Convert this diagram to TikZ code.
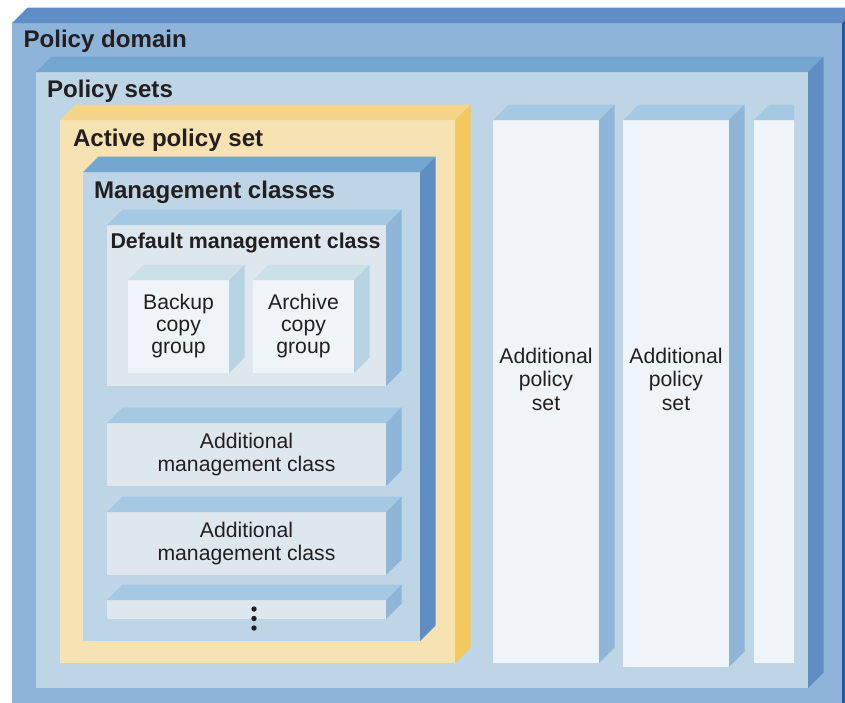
\documentclass[tikz,border=0pt]{standalone}
\usepackage{fontspec}
\setmainfont{Liberation Sans}
\usepackage{tikz}

\definecolor{ink}{HTML}{231F20}
\definecolor{pdfront}{HTML}{8FB4D9}
\definecolor{pdtop}{HTML}{5F8DC5}
\definecolor{pdside}{HTML}{1F5CA6}
\definecolor{psfront}{HTML}{BDD5E5}
\definecolor{pstop}{HTML}{74A6D2}
\definecolor{psside}{HTML}{5F8EC4}
\definecolor{apsfront}{HTML}{F7E3B1}
\definecolor{apstop}{HTML}{F5D589}
\definecolor{apsside}{HTML}{F3C95E}
\definecolor{clsfront}{HTML}{DFE7EE}
\definecolor{clstop}{HTML}{A5C9E2}
\definecolor{clsside}{HTML}{8FB5D9}
\definecolor{grpfront}{HTML}{EEF4F7}
\definecolor{grptop}{HTML}{CCE0E7}
\definecolor{grpside}{HTML}{B8D3E3}

\begin{document}
\begin{tikzpicture}[
  x=1pt, y=-1pt, inner sep=0pt, outer sep=0pt, text=ink,
  font=\fontsize{21.2}{23.5}\selectfont,
  front/.style={anchor=north west},
  title/.style={anchor=base west, font=\fontsize{24.1}{26}\selectfont\bfseries},
  subtitle/.style={anchor=base west, font=\fontsize{21.4}{23}\selectfont\bfseries},
  txt/.style={align=center},
]
\useasboundingbox (0,0) rectangle (845,702);
\clip (0,0) rectangle (845,702);
% front faces, outer to inner
\node[front, fill=pdfront, minimum width=830pt, minimum height=687pt] (pd) at (12,23) {};
\node[front, fill=psfront, minimum width=772pt, minimum height=616pt] (ps) at (36,72) {};
\node[front, fill=apsfront, minimum width=395pt, minimum height=543pt] (aps) at (60,120) {};
\node[front, fill=psfront, minimum width=337pt, minimum height=469pt] (mc) at (83,172) {};
\node[front, fill=clsfront, minimum width=279pt, minimum height=161pt] (dmc) at (107,225) {};
\node[front, fill=grpfront, minimum width=101pt, minimum height=93pt] (bcg) at (128,280) {};
\node[front, fill=grpfront, minimum width=101pt, minimum height=93pt] (acg) at (253,280) {};
\node[front, fill=clsfront, minimum width=279pt, minimum height=63pt] (amc1) at (107,423) {};
\node[front, fill=clsfront, minimum width=279pt, minimum height=63pt] (amc2) at (107,512) {};
\node[front, fill=clsfront, minimum width=279pt, minimum height=19pt] (amc3) at (107,600) {};
\node[front, fill=grpfront, minimum width=106pt, minimum height=543pt] (ap1) at (493,120) {};
\node[front, fill=grpfront, minimum width=106pt, minimum height=547pt] (ap2) at (623,120) {};
\node[front, fill=grpfront, minimum width=40pt, minimum height=543pt] (ap3) at (754,120) {};
% top and side faces
\foreach \b/\t/\s in {pd/pdtop/pdside, ps/pstop/psside, aps/apstop/apsside, mc/pstop/psside,
    dmc/clstop/clsside, bcg/grptop/grpside, acg/grptop/grpside, amc1/clstop/clsside,
    amc2/clstop/clsside, amc3/clstop/clsside, ap1/clstop/clsside, ap2/clstop/clsside} {
  \fill[\t] (\b.north west) -- ++(15.5,-15.5) -- ([shift={(15.5,-15.5)}]\b.north east) -- (\b.north east) -- cycle;
  \fill[\s] (\b.north east) -- ++(15.5,-15.5) -- ([shift={(15.5,-15.5)}]\b.south east) -- (\b.south east) -- cycle;
}
\fill[clstop] (ap3.north west) -- ++(15.5,-15.5) -| (ap3.north east) -- cycle;
% labels
\node[title] (pdlbl) at (23.5,47) {Policy domain};
\node[title] (pslbl) at (47,97) {Policy sets};
\node[title] (apslbl) at (73,146) {Active policy set};
\node[title] (mclbl) at (94,198) {Management classes};
\node[subtitle] (dmclbl) at (110.5,248) {Default management class};
\node[txt, font=\fontsize{21.2}{22}\selectfont] (bcglbl) at (bcg.center) {Backup\\copy\\group};
\node[txt, font=\fontsize{21.2}{22}\selectfont] (acglbl) at (acg.center) {Archive\\copy\\group};
\node[txt] (amc1lbl) at (amc1.center) {Additional\\management class};
\node[txt] (amc2lbl) at (amc2.center) {Additional\\management class};
\node[txt] (ap1lbl) at (546,379) {Additional\\policy\\set};
\node[txt] (ap2lbl) at (676,379) {Additional\\policy\\set};
\foreach \y in {609,618.5,628}
  \fill[ink] (254,\y) circle (2.7pt);
\end{tikzpicture}
\end{document}
